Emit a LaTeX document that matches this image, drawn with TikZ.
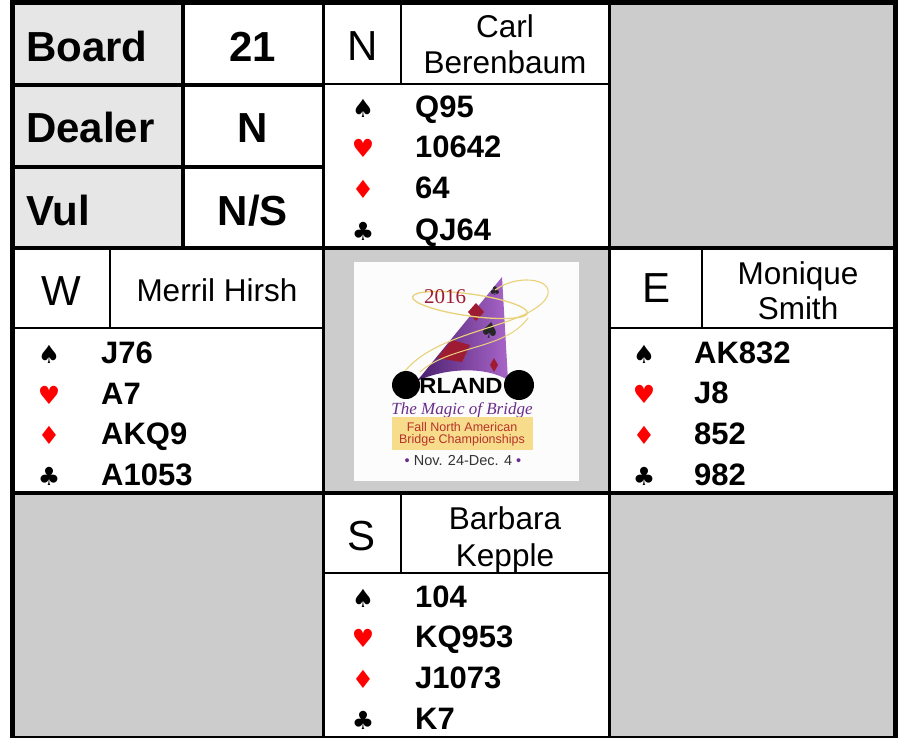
\documentclass[tikz,border=0pt]{standalone}
\usepackage{fontspec}
\setmainfont{Liberation Sans}
\newfontfamily\suitfont{DejaVu Sans}
\newfontfamily\logoserif{Liberation Serif}
\definecolor{cellgray}{HTML}{CCCCCC}
\definecolor{labelgray}{HTML}{E6E6E6}
\definecolor{suitred}{HTML}{FF0000}
\definecolor{logopurple}{HTML}{6B2D8B}
\definecolor{logodark}{HTML}{4A1F6E}
\definecolor{logolight}{HTML}{A865C9}
\definecolor{logored}{HTML}{9E1B32}
\definecolor{logoyellow}{HTML}{F7DC8C}
\definecolor{logobrick}{HTML}{B8322A}
\definecolor{logogold}{HTML}{E9D27A}
\tikzset{
  outerline/.style={line width=5pt},
  cellline/.style={line width=3.5pt},
  innerline/.style={line width=2pt},
  lbl/.style={font=\fontsize{42}{50}\selectfont\bfseries, inner sep=0pt, anchor=base west},
  val/.style={font=\fontsize{42}{50}\selectfont\bfseries, inner sep=0pt, anchor=base},
  dirl/.style={font=\fontsize{42}{50}\selectfont, inner sep=0pt, anchor=base},
  nm/.style={font=\fontsize{31.5}{38}\selectfont, inner sep=0pt, anchor=base},
  cards/.style={font=\fontsize{31}{37}\selectfont\bfseries, inner sep=0pt, anchor=base west},
  suit/.style={font=\suitfont\fontsize{25}{30}\selectfont, inner sep=0pt, anchor=base},
  rsuit/.style={suit, text=suitred},
}
\begin{document}
\begin{tikzpicture}[x=1pt,y=-1pt]
\useasboundingbox (0,0) rectangle (901,738);
% fills
\fill[white] (0,0) rectangle (901,738);
\fill[labelgray] (13,3) rectangle (183,248);
\fill[cellgray] (609,3) rectangle (895,248);
\fill[cellgray] (323,248) rectangle (609,493);
\fill[cellgray] (13,493) rectangle (323,738);
\fill[cellgray] (609,493) rectangle (895,738);

% top-left table lines
\draw[cellline] (13,85) -- (323,85);
\draw[cellline] (13,167) -- (323,167);
\draw[cellline] (183,3) -- (183,248);
% main cell lines
\draw[cellline] (323.5,3) -- (323.5,738);
\draw[cellline] (609.5,3) -- (609.5,738);
\draw[cellline] (13,248) -- (895,248);
\draw[cellline] (13,493) -- (895,493);
% hand box inner lines
\draw[innerline] (325,84) -- (609,84);
\draw[innerline] (401,3) -- (401,84);
\draw[innerline] (13,328) -- (323,328);
\draw[innerline] (110,248) -- (110,328);
\draw[innerline] (609,328) -- (895,328);
\draw[innerline] (702,248) -- (702,328);
\draw[innerline] (323,573) -- (609,573);
\draw[innerline] (401,493) -- (401,573);
% outer border
\draw[outerline] (12.5,738) -- (12.5,2.5) -- (895.5,2.5) -- (895.5,738);
\draw[line width=2pt] (12.5,737) -- (895.5,737);

% board info
\node[lbl] (board) at (26,62) {Board};
\node[val] (boardv) at (253,62) {21};
\node[lbl] (dealer) at (26,143) {Dealer};
\node[val] (dealerv) at (253,143) {N};
\node[lbl] (vul) at (26,225) {Vul};
\node[val] (vulv) at (253,225) {N/S};

% North
\node[dirl] (ndir) at (363,61) {N};
\node[nm] (nname1) at (505,38) {Carl};
\node[nm] (nname2) at (505,74) {Berenbaum};
\node[suit] (ns) at (363,118) {♠};
\node[rsuit] (nh) at (363,158) {♥};
\node[rsuit] (nd) at (363,198) {♦};
\node[suit] (nc) at (363,240) {♣};
\node[cards] (nsc) at (415,118) {Q95};
\node[cards] (nhc) at (415,158) {10642};
\node[cards] (ndc) at (415,198) {64};
\node[cards] (ncc) at (415,240) {QJ64};

% West
\node[dirl] (wdir) at (61,305) {W};
\node[nm] (wname) at (217,301) {Merril Hirsh};
\node[suit] (ws) at (49,363) {♠};
\node[rsuit] (wh) at (49,404) {♥};
\node[rsuit] (wd) at (49,444) {♦};
\node[suit] (wc) at (49,485) {♣};
\node[cards] (wsc) at (101,363) {J76};
\node[cards] (whc) at (101,404) {A7};
\node[cards] (wdc) at (101,444) {AKQ9};
\node[cards] (wcc) at (101,485) {A1053};

% East
\node[dirl] (edir) at (656,302) {E};
\node[nm] (ename1) at (798,284) {Monique};
\node[nm] (ename2) at (798,319) {Smith};
\node[suit] (es) at (644,363) {♠};
\node[rsuit] (eh) at (644,403) {♥};
\node[rsuit] (ed) at (644,444) {♦};
\node[suit] (ec) at (644,485) {♣};
\node[cards] (esc) at (694,363) {AK832};
\node[cards] (ehc) at (694,403) {J8};
\node[cards] (edc) at (694,444) {852};
\node[cards] (ecc) at (694,485) {982};

% South
\node[dirl] (sdir) at (362,550) {S};
\node[nm] (sname1) at (505,529) {Barbara};
\node[nm] (sname2) at (505,566) {Kepple};
\node[suit] (ss) at (363,607) {♠};
\node[rsuit] (sh) at (363,647) {♥};
\node[rsuit] (sd) at (363,688) {♦};
\node[suit] (sc) at (363,729) {♣};
\node[cards] (ssc) at (415,607) {104};
\node[cards] (shc) at (415,647) {KQ953};
\node[cards] (sdc) at (415,688) {J1073};
\node[cards] (scc) at (415,729) {K7};

% logo
\fill[white!99!black] (354,262) rectangle (579,481);
\shade[left color=logodark, right color=logolight]
  (502,277) -- (417,381) .. controls (445,368) and (485,366) .. (508,380) -- cycle;
\fill[logored] (468,312) -- (476,303) -- (484,312) -- (476,321) -- cycle;
\fill[logored] (437,358) -- (452,340) -- (470,345) -- (462,362) -- cycle;
\fill[logored] (494,372) -- (490,365) -- (494,358) -- (498,365) -- cycle;
\node[font=\suitfont\fontsize{22}{26}\selectfont, text=black!85, inner sep=0pt, rotate=-10] (lspade) at (490,330) {♠};
\node[font=\suitfont\fontsize{12}{14}\selectfont, text=black!85, inner sep=0pt] (lclub) at (495,291) {♣};
\draw[logogold, line width=1.3pt, rotate around={-8:(470,305)}] (470,305) ellipse (58 and 11);
\draw[logogold, line width=1.1pt] (400,378) .. controls (430,330) and (520,330) .. (545,300)
  .. controls (560,280) and (520,272) .. (495,290);
\draw[logogold, line width=1pt] (420,372) .. controls (450,345) and (505,350) .. (528,318);
\node[font=\logoserif\fontsize{21}{24}\selectfont, text=logored, inner sep=0pt] (y2016) at (445,297) {2016};
\fill[black] (406,385) circle (14);
\fill[black] (519,385) circle (15);
\node[font=\fontsize{22}{26}\selectfont\bfseries, inner sep=0pt, xscale=1.08] (orl) at (461,386) {RLAND};
\node[font=\logoserif\itshape\fontsize{17}{20}\selectfont, text=logopurple, inner sep=0pt] (magic) at (462,410) {The Magic of Bridge};
\fill[logoyellow] (392,417) rectangle (533,450);
\node[font=\fontsize{12.5}{14}\selectfont, text=logobrick, inner sep=0pt] (fall1) at (462,427) {Fall North American};
\node[font=\fontsize{12.5}{14}\selectfont, text=logobrick, inner sep=0pt] (fall2) at (462,440) {Bridge Championships};
\node[font=\fontsize{14.5}{17}\selectfont, text=black!80, inner sep=0pt] (dates) at (463,461) {\textcolor{logopurple}{•} Nov. 24-Dec. 4 \textcolor{logopurple}{•}};
\end{tikzpicture}
\end{document}
